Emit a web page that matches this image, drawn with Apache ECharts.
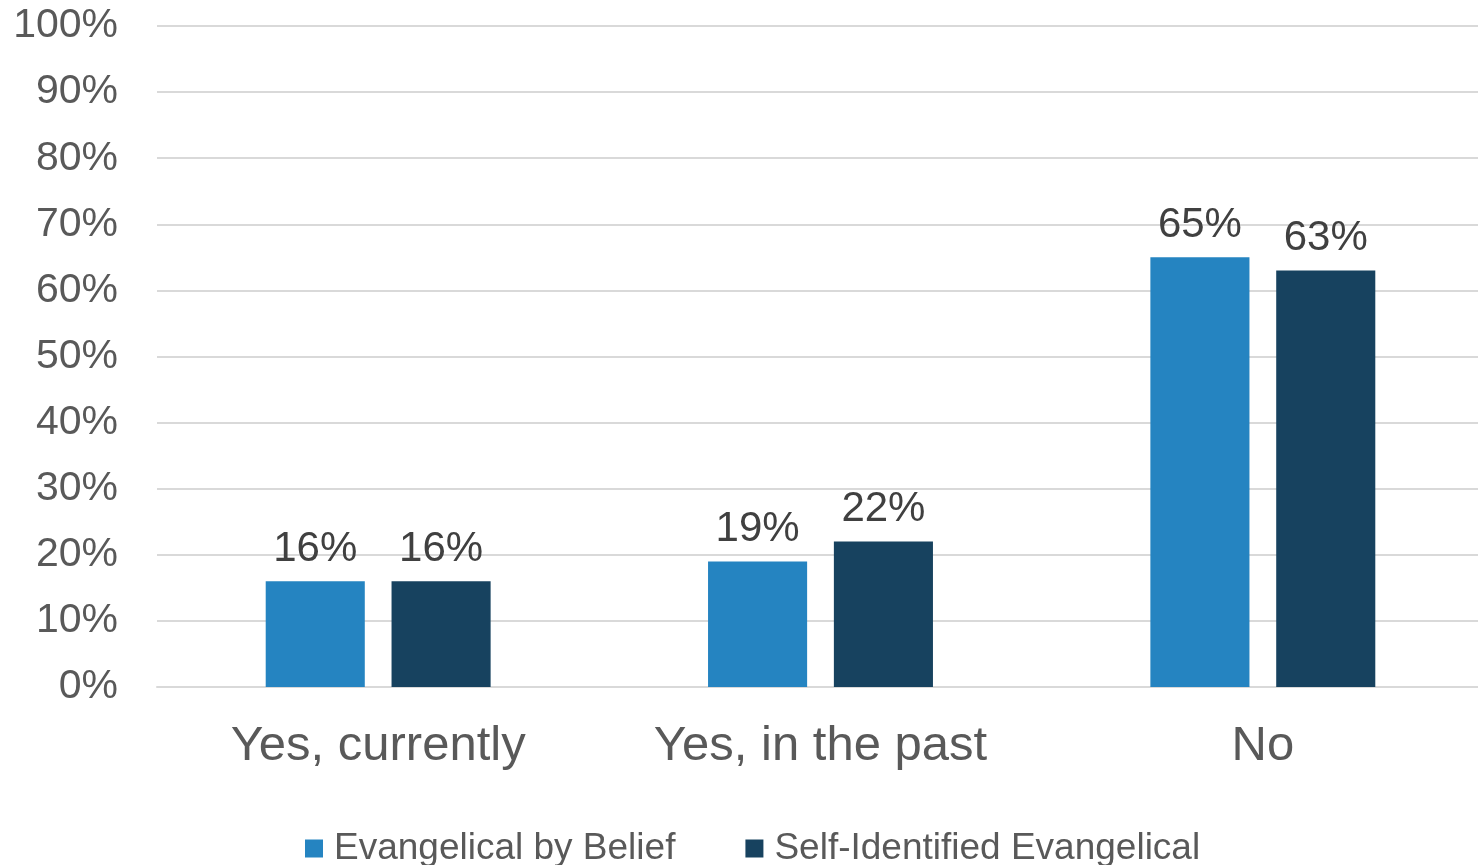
<!DOCTYPE html>
<html>
<head>
<meta charset="utf-8">
<script src="https://cdn.jsdelivr.net/npm/echarts@6/dist/echarts.min.js"></script>
<style>
html,body{margin:0;padding:0;background:#fff;overflow:hidden;}
#main{width:1490px;height:865px;}
</style>
</head>
<body>
<div id="main"></div>
<script>
const categories = ['Yes, currently', 'Yes, in the past', 'No'];
const seriesNames = ['Evangelical by Belief', 'Self-Identified Evangelical'];
const beliefValues = [16, 19, 65];
const selfIdValues = [16, 22, 63];
const colors = ['#2584C1', '#17425F'];

const FONT = '"Liberation Sans", Arial, sans-serif';
const chart = echarts.init(document.getElementById('main'), null, {renderer: 'canvas'});

const labelCfg = {
  show: true,
  position: 'top',
  distance: 11,
  formatter: p => p.value + '%',
  fontFamily: FONT,
  fontSize: 42,
  color: '#404040'
};

chart.setOption({
  animation: false,
  backgroundColor: '#ffffff',
  textStyle: {fontFamily: FONT},
  grid: {left: 157, top: 26, width: 1327, bottom: 178, containLabel: false},
  legend: {
    data: seriesNames,
    left: 305,
    top: 830,
    padding: 0,
    itemWidth: 18,
    itemHeight: 18,
    itemGap: 70,
    icon: 'rect',
    textStyle: {fontFamily: FONT, fontSize: 37, color: '#595959', padding: [0, 0, 0, 6]}
  },
  xAxis: {
    type: 'category',
    data: categories,
    axisLine: {show: true, lineStyle: {color: '#d9d9d9', width: 2}},
    axisTick: {show: false},
    axisLabel: {fontFamily: FONT, fontSize: 49, color: '#595959', margin: 35}
  },
  yAxis: {
    type: 'value',
    min: 0,
    max: 100,
    interval: 10,
    axisLine: {show: false},
    axisTick: {show: false},
    axisLabel: {fontFamily: FONT, fontSize: 41, color: '#595959', margin: 39, formatter: v => v + '%'},
    splitLine: {lineStyle: {color: '#d9d9d9', width: 2}}
  },
  series: [
    {
      name: seriesNames[0], type: 'bar', data: beliefValues,
      barWidth: '22.4%', barGap: '27%',
      itemStyle: {color: colors[0]},
      label: labelCfg
    },
    {
      name: seriesNames[1], type: 'bar', data: selfIdValues,
      barWidth: '22.4%', barGap: '27%',
      itemStyle: {color: colors[1]},
      label: labelCfg
    }
  ]
});
</script>
</body>
</html>
